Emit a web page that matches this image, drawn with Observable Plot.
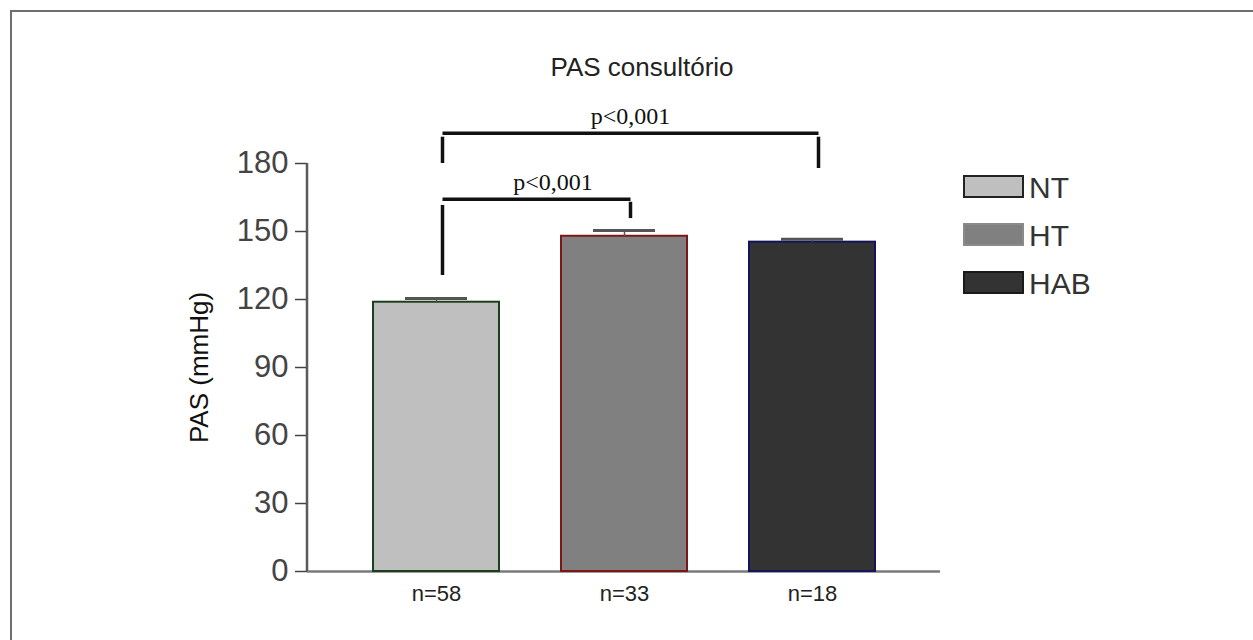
<!DOCTYPE html>
<html><head><meta charset="utf-8">
<script src="https://cdn.jsdelivr.net/npm/d3@7"></script>
<script src="https://cdn.jsdelivr.net/npm/@observablehq/plot@0.6"></script>
<style>
body{margin:0;background:#fff;}
#wrap{position:relative;width:1253px;height:640px;overflow:hidden;background:#fff;}
#border{position:absolute;left:10px;top:10px;width:1400px;height:800px;border-left:2px solid #6e6e6e;border-top:2px solid #6e6e6e;pointer-events:none;}
svg{display:block;}
</style></head><body><div id="wrap"><div id="border"></div></div>
<script>
const groups = ["NT", "HT", "HAB"];
const means = [118.8, 147.9, 145.3];
const sems = [1.6, 2.5, 1.3];
const nLabels = ["n=58", "n=33", "n=18"];
const fills = ["#bfbfbf", "#808080", "#333333"];
const strokes = ["#1f3d1f", "#7d1616", "#14145a"];
const legendStrokes = ["#222222", "#8a8a8a", "#1a1a1a"];
const yTicks = [0, 30, 60, 90, 120, 150, 180];
const title = "PAS consultório";
const yLabel = "PAS (mmHg)";
const cmpFrom = ["NT", "NT"];
const cmpTo = ["HT", "HAB"];
const cmpY = [164.2, 193.4];
const cmpLeftLow = [130.6, 180.0];
const cmpLeftHigh = [161.5, 191.6];
const cmpRightLow = [155.7, 177.8];
const cmpRightHigh = [162.9, 191.6];
const cmpLabels = ["p<0,001", "p<0,001"];

const bars = groups.map((g, i) => ({group: g, mean: means[i], top: means[i] + sems[i], n: nLabels[i], fill: fills[i], stroke: strokes[i]}));
const cmps = cmpFrom.map((f, i) => ({from: f, to: cmpTo[i], y: cmpY[i], l1: cmpLeftLow[i], l2: cmpLeftHigh[i], r1: cmpRightLow[i], r2: cmpRightHigh[i], label: cmpLabels[i]}));

const W = 1253, H = 640;
const mL = 307, mR = 313, mT = 163, mB = 69;
const xOpts = {type: "band", domain: groups, paddingInner: 0.33, paddingOuter: 0.34, range: [mL, W - mR]};
const xs = Plot.scale({x: xOpts});
const half = (a, b) => (xs.apply(b) - xs.apply(a)) / 2;

const sans = "'Liberation Sans', Arial, sans-serif";
const serif = "'Liberation Serif', 'Times New Roman', serif";

const plot = Plot.plot({
  width: W, height: H,
  marginLeft: mL, marginRight: mR, marginTop: mT, marginBottom: mB,
  style: {fontFamily: sans, background: "transparent", overflow: "visible"},
  x: {...xOpts, axis: null},
  y: {domain: [0, 180], axis: null},
  marks: [
    Plot.axisY({ticks: yTicks, tickSize: 12, tickPadding: 7, fontSize: 31, color: "#444", strokeWidth: 1.5, label: null, fontFamily: sans}),
    Plot.ruleY([0], {stroke: "#7a7a7a", strokeWidth: 2.5}),
    Plot.barY(bars, {x: "group", y: "mean", fill: "fill", stroke: "stroke", strokeWidth: 2}),
    Plot.ruleX(bars, {x: "group", y1: "mean", y2: "top", stroke: "#555", strokeWidth: 1.5}),
    Plot.tickY(bars, {x: "group", y: "top", stroke: "#555", strokeWidth: 3, insetLeft: 32, insetRight: 32}),
    Plot.link(cmps, {x1: "from", x2: "to", y1: "y", y2: "y", dx: 6, stroke: "#111", strokeWidth: 3.5}),
    Plot.ruleX(cmps, {x: "from", y1: "l1", y2: "l2", dx: 6, stroke: "#111", strokeWidth: 3.5}),
    Plot.ruleX(cmps, {x: "to", y1: "r1", y2: "r2", dx: 6, stroke: "#111", strokeWidth: 3.5}),
    Plot.text([cmps[0]], {x: "from", y: "y", text: "label", dx: half(cmps[0].from, cmps[0].to) + 22, dy: -9, lineAnchor: "bottom", fontSize: 24, fontFamily: serif, fill: "#111"}),
    Plot.text([cmps[1]], {x: "from", y: "y", text: "label", dx: half(cmps[1].from, cmps[1].to) + 5, dy: -9, lineAnchor: "bottom", fontSize: 24, fontFamily: serif, fill: "#111"}),
    Plot.text(bars, {x: "group", y: 0, text: "n", lineAnchor: "top", dy: 14, fontSize: 22, fill: "#222"}),
    Plot.text([title], {frameAnchor: "top", dx: 18, dy: -88, lineAnchor: "bottom", textAnchor: "middle", fontSize: 26, fill: "#222"}),
    Plot.text([yLabel], {frameAnchor: "left", rotate: -90, dx: -108, lineAnchor: "middle", textAnchor: "middle", fontSize: 26, fill: "#111"})
  ]
});

const ys = plot.scale("y");
const svg = d3.select(plot);
svg.append("line")
  .attr("x1", mL).attr("x2", mL)
  .attr("y1", ys.apply(180)).attr("y2", ys.apply(0))
  .attr("stroke", "#5a5a5a").attr("stroke-width", 2.5);

const lg = svg.append("g").attr("font-family", sans).attr("text-anchor", "start");
groups.forEach((g, i) => {
  const y0 = 176 + i * 48;
  lg.append("rect").attr("x", 964).attr("y", y0).attr("width", 59).attr("height", 21)
    .attr("fill", fills[i]).attr("stroke", legendStrokes[i]).attr("stroke-width", 2);
  lg.append("text").attr("x", 1029).attr("y", y0 + 22).attr("font-size", 30)
    .attr("text-anchor", "start").attr("fill", "#333").text(g);
});

document.getElementById("wrap").prepend(plot);
</script>
</body></html>
